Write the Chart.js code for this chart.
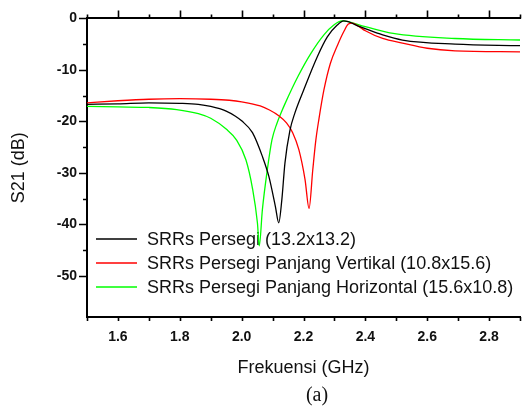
<!DOCTYPE html>
<html>
<head>
<meta charset="utf-8">
<script src="https://cdn.jsdelivr.net/npm/chart.js@4/dist/chart.umd.min.js"></script>
<style>
  html, body { margin: 0; padding: 0; background: #fff; overflow: hidden; }
  #s21Chart { display: block; }
</style>
</head>
<body>
<canvas id="s21Chart" width="532" height="413" style="width:532px;height:413px"></canvas>
<script>
// S21 transmission curves of the three SRR resonators
const seriesLabels = [
  'SRRs Persegi (13.2x13.2)',
  'SRRs Persegi Panjang Vertikal (10.8x15.6)',
  'SRRs Persegi Panjang Horizontal (15.6x10.8)'
];
const seriesColors = ['#000000', '#ff0000', '#00ff00'];

// square SRR
const squareFreq = [1.50, 1.60, 1.70, 1.80, 1.86, 1.90, 1.95, 1.98, 2.00, 2.035, 2.067, 2.088, 2.109, 2.12, 2.13, 2.14, 2.156, 2.172, 2.20, 2.245, 2.277, 2.309, 2.33, 2.382, 2.456, 2.52, 2.69, 2.90];
const squareS21 = [-16.7, -16.6, -16.4, -16.5, -16.7, -17.1, -18.0, -19.0, -19.9, -22.2, -26.8, -30.7, -36.5, -39.7, -35.2, -28.1, -21.8, -18.4, -14.0, -7.4, -3.6, -1.3, -0.5, -1.6, -3.2, -4.2, -5.0, -5.3];

// vertical rectangle SRR
const verticalFreq = [1.50, 1.60, 1.70, 1.80, 1.90, 1.96, 2.00, 2.06, 2.09, 2.12, 2.145, 2.165, 2.185, 2.205, 2.218, 2.23, 2.24, 2.25, 2.266, 2.287, 2.31, 2.33, 2.345, 2.358, 2.375, 2.40, 2.456, 2.52, 2.60, 2.69, 2.90];
const verticalS21 = [-16.4, -16.0, -15.7, -15.6, -15.7, -15.9, -16.2, -17.0, -17.8, -18.9, -20.3, -22.2, -25.5, -31.3, -36.9, -29.4, -23.6, -19.5, -13.9, -8.7, -5.2, -2.6, -1.1, -0.9, -1.4, -2.4, -3.9, -4.8, -5.8, -6.3, -6.5];

// horizontal rectangle SRR
const horizontalFreq = [1.50, 1.60, 1.70, 1.79, 1.86, 1.90, 1.95, 1.983, 2.014, 2.035, 2.051, 2.057, 2.067, 2.083, 2.098, 2.114, 2.13, 2.14, 2.182, 2.224, 2.266, 2.298, 2.324, 2.40, 2.49, 2.69, 2.90];
const horizontalS21 = [-17.1, -17.2, -17.3, -17.7, -18.5, -19.4, -21.5, -23.6, -27.5, -33.0, -39.7, -44.2, -37.2, -29.4, -23.6, -20.4, -18.0, -16.6, -11.3, -6.8, -3.2, -1.3, -0.5, -1.6, -2.9, -3.9, -4.2];

const freqRange = [1.5, 2.9];
const s21Range = [-58, 0];

const toPoints = (xs, ys) => xs.map((x, i) => ({ x: x, y: ys[i] }));
const seriesData = [
  toPoints(squareFreq, squareS21),
  toPoints(verticalFreq, verticalS21),
  toPoints(horizontalFreq, horizontalS21)
];

const sans = "'Liberation Sans', Arial, sans-serif";

// legend drawn inside the plot, under the curves
const insideLegend = {
  id: 'insideLegend',
  beforeDatasetsDraw(chart) {
    const ctx = chart.ctx;
    const left = chart.chartArea.left;
    ctx.save();
    ctx.font = '18px ' + sans;
    ctx.textBaseline = 'middle';
    ctx.fillStyle = '#111';
    chart.data.datasets.forEach((ds, i) => {
      const y = 239 + i * 24;
      ctx.strokeStyle = ds.borderColor;
      ctx.lineWidth = 1.6;
      ctx.beginPath();
      ctx.moveTo(left + 9, y);
      ctx.lineTo(left + 50, y);
      ctx.stroke();
      ctx.fillText(ds.label, left + 60, y + 1);
    });
    ctx.restore();
  }
};

// outward tick marks on left, bottom and top axes, plus the caption
const axisTicks = {
  id: 'axisTicks',
  afterDraw(chart) {
    const ctx = chart.ctx;
    const { left, top, bottom } = chart.chartArea;
    const xs = chart.scales.x;
    const ys = chart.scales.y;
    ctx.save();
    ctx.strokeStyle = '#000';
    ctx.lineWidth = 1.6;
    ctx.beginPath();
    ys.ticks.forEach(t => {
      const v = Math.round(t.value);
      if (v % 5 !== 0 || Math.abs(t.value - v) > 1e-6) return;
      const py = Math.round(ys.getPixelForValue(v)) + 0.5;
      const len = v % 10 === 0 ? 8 : 4;
      ctx.moveTo(left - len, py);
      ctx.lineTo(left, py);
    });
    xs.ticks.forEach(t => {
      const k = Math.round(t.value * 10);
      const px = Math.round(xs.getPixelForValue(k / 10)) + 0.5;
      ctx.moveTo(px, bottom);
      ctx.lineTo(px, bottom + 4);
      const len = k % 2 === 0 ? 8 : 4;
      ctx.moveTo(px, top - len);
      ctx.lineTo(px, top);
    });
    ctx.stroke();
    ctx.fillStyle = '#111';
    ctx.font = "20px 'Liberation Serif', 'Times New Roman', serif";
    ctx.textAlign = 'center';
    ctx.textBaseline = 'middle';
    ctx.fillText('(a)', 317, 396);
    ctx.restore();
  }
};

new Chart(document.getElementById('s21Chart'), {
  type: 'line',
  data: {
    datasets: seriesData.map((pts, i) => ({
      label: seriesLabels[i],
      data: pts,
      borderColor: seriesColors[i],
      backgroundColor: seriesColors[i],
      borderWidth: 1.3,
      pointRadius: 0,
      cubicInterpolationMode: 'monotone',
      fill: false
    }))
  },
  options: {
    responsive: false,
    animation: false,
    devicePixelRatio: 1,
    layout: { padding: { top: 0, right: 1, left: 0, bottom: 0 } },
    plugins: {
      legend: { display: false },
      tooltip: { enabled: false }
    },
    scales: {
      x: {
        type: 'linear',
        position: 'bottom',
        min: freqRange[0],
        max: freqRange[1],
        afterFit: s => { s.height = 96; },
        grid: { display: false, drawTicks: false },
        border: { display: true, color: '#000', width: 2 },
        ticks: {
          stepSize: 0.1,
          autoSkip: false,
          maxRotation: 0,
          padding: 12,
          color: '#111',
          font: { family: sans, size: 14, weight: 'bold' },
          callback: v => {
            const k = Math.round(v * 10);
            return (k % 2 === 0 && k > 15 && k < 29) ? (k / 10).toFixed(1) : '';
          }
        },
        title: {
          display: true,
          text: 'Frekuensi (GHz)',
          color: '#111',
          font: { family: sans, size: 18 },
          padding: { top: 0, bottom: 34 }
        }
      },
      x2: {
        type: 'linear',
        position: 'top',
        min: freqRange[0],
        max: freqRange[1],
        afterFit: s => { s.height = 18; },
        grid: { display: false, drawTicks: false },
        border: { display: true, color: '#000', width: 2 },
        ticks: { display: false }
      },
      y: {
        min: s21Range[0],
        max: s21Range[1],
        afterFit: s => { s.width = 87; },
        grid: { display: false, drawTicks: false },
        border: { display: true, color: '#000', width: 2 },
        ticks: {
          stepSize: 5,
          autoSkip: false,
          padding: 10,
          color: '#111',
          font: { family: sans, size: 14, weight: 'bold' },
          callback: v => (v % 10 === 0 ? String(v) : '')
        },
        title: {
          display: true,
          text: 'S21 (dB)',
          color: '#111',
          font: { family: sans, size: 18 },
          padding: { top: 8, bottom: 0 }
        }
      }
    }
  },
  plugins: [insideLegend, axisTicks]
});
</script>
</body>
</html>
